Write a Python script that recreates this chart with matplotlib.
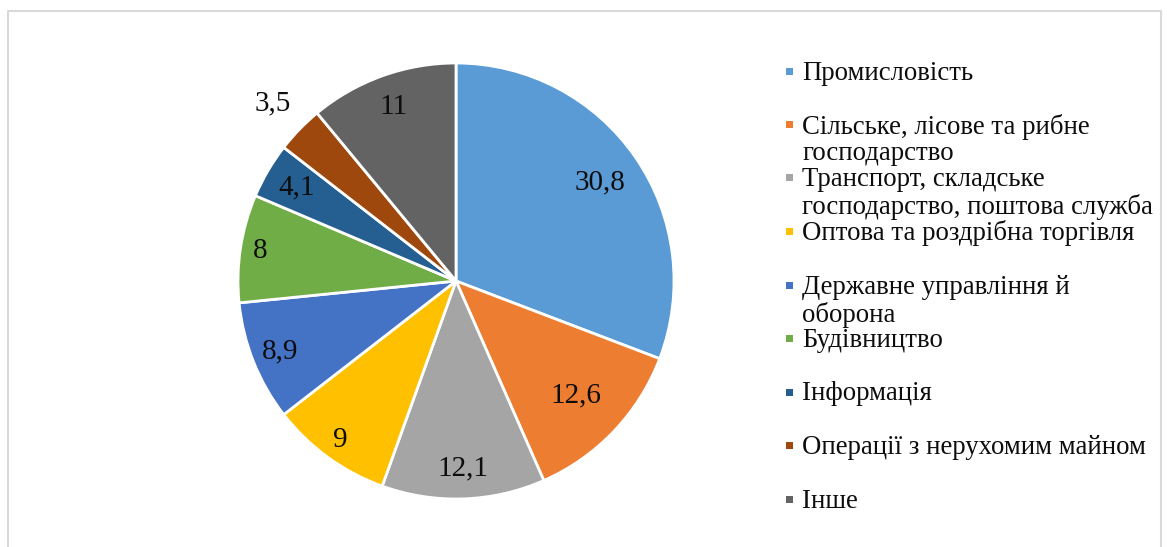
import numpy as np
import matplotlib
matplotlib.use('Agg')
import matplotlib.pyplot as plt
from matplotlib.patches import Rectangle

plt.rcParams['font.family'] = ['Liberation Serif', 'DejaVu Serif']

# data
sectors = ['Промисловість',
           'Сільське, лісове та рибне\nгосподарство',
           'Транспорт, складське\nгосподарство, поштова служба',
           'Оптова та роздрібна торгівля',
           'Державне управління й\nоборона',
           'Будівництво',
           'Інформація',
           'Операції з нерухомим майном',
           'Інше']
shares = [30.8, 12.6, 12.1, 9, 8.9, 8, 4.1, 3.5, 11]
share_labels = ['30,8', '12,6', '12,1', '9', '8,9', '8', '4,1', '3,5', '11']

colors = ['#5B9BD5', '#ED7D31', '#A5A5A5', '#FFC000', '#4472C4',
          '#70AD47', '#255E91', '#9E480E', '#636363']
# label distance from centre (fraction of radius), Excel "best fit"-ish
label_r = [0.80, 0.76, 0.86, 0.90, 0.87, 0.91, 0.85, 1.17, 0.85]

W, H = 1167, 547
fig = plt.figure(figsize=(W / 100, H / 100), dpi=100)

# light grey chart frame (no bottom edge visible)
frame_x = [8 / W, 8 / W, 1161 / W, 1161 / W]
frame_y = [0, 1 - 11 / H, 1 - 11 / H, 0]
fig.add_artist(plt.Line2D(frame_x, frame_y, transform=fig.transFigure,
                          color='#D9D9D9', lw=1.5))

cx, cy, r = 456, 281, 218
ax = fig.add_axes([(cx - r) / W, 1 - (cy + r) / H, 2 * r / W, 2 * r / H])
wedges, _ = ax.pie(shares, colors=colors, startangle=90, counterclock=False,
                   radius=1, wedgeprops=dict(edgecolor='white', linewidth=2))
ax.set_xlim(-1, 1)
ax.set_ylim(-1, 1)
ax.set_aspect('equal')
ax.axis('off')

for w, lab, d in zip(wedges, share_labels, label_r):
    ang = np.deg2rad((w.theta1 + w.theta2) / 2)
    ax.text(d * np.cos(ang), d * np.sin(ang), lab, ha='center', va='center',
            fontsize=21, color='#0D0D0D', clip_on=False)

# legend drawn by hand, one slot per sector
y0, step, line_h = 73, 53.5, 27.5
for i, (name, c) in enumerate(zip(sectors, colors)):
    y = y0 + i * step
    fig.add_artist(Rectangle((786 / W, 1 - (y + 1.5) / H), 7 / W, 7 / H,
                             transform=fig.transFigure, facecolor=c, edgecolor='none'))
    for k, line in enumerate(name.split('\n')):
        fig.text(802 / W, 1 - (y + k * line_h) / H, line, ha='left', va='center',
                 fontsize=19.3, color='#0D0D0D')

fig.savefig('out.png', dpi=100)
